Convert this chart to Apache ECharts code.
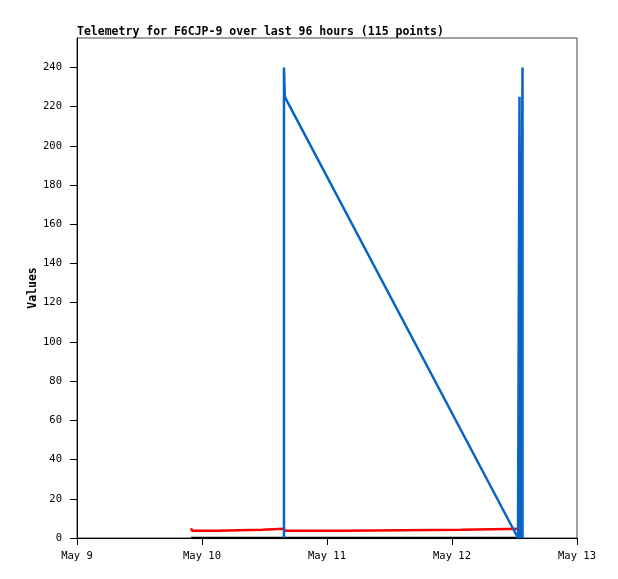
<!DOCTYPE html>
<html>
<head>
<meta charset="utf-8">
<script src="https://cdn.jsdelivr.net/npm/echarts@6/dist/echarts.min.js"></script>
<style>
  html, body { margin: 0; padding: 0; background: #fff; }
  #chart { width: 618px; height: 579px; }
</style>
</head>
<body>
<div id="chart"></div>
<script>
// hours since May 9 00:00
var dayLabels = ['May 9', 'May 10', 'May 11', 'May 12', 'May 13'];
var yTicks = [0, 20, 40, 60, 80, 100, 120, 140, 160, 180, 200, 220, 240];

var redTimes = [21.9, 22.1, 26.7, 35.5, 39.8, 51.1, 73.7, 85.4];
var redValues = [5.0, 3.7, 4.2, 4.75, 3.7, 4.2, 4.75, 4.75];

var blackTimes = [21.9, 85.5];
var blackValues = [0, 0];

var blueTimes = [39.74, 39.74, 39.9, 84.67, 84.96, 85.06, 85.54, 85.54];
var blueValues = [0, 240, 225, 0, 225, 0, 240, 0];

function pairs(t, v) {
  return t.map(function (x, i) { return [x, v[i]]; });
}

var font = 'DejaVu Sans Mono';
var chart = echarts.init(document.getElementById('chart'));
chart.setOption({
  animation: false,
  backgroundColor: '#fff',
  title: {
    text: 'Telemetry for F6CJP-9 over last 96 hours (115 points)',
    left: 72, top: 21,
    textStyle: { fontFamily: font, fontSize: 11.5, fontWeight: 'bold', color: '#000' }
  },
  grid: {
    left: 77, right: 41, top: 38, bottom: 41,
    show: true, borderColor: '#444', borderWidth: 1
  },
  xAxis: {
    type: 'value', min: 0, max: 96, interval: 24,
    axisLine: { lineStyle: { color: '#000', width: 1 } },
    axisTick: { length: 7, lineStyle: { color: '#000' } },
    splitLine: { show: false },
    axisLabel: {
      fontFamily: font, fontSize: 10.5, color: '#000', margin: 13,
      formatter: function (v) { return dayLabels[Math.round(v / 24)]; }
    }
  },
  yAxis: {
    type: 'value', min: 0, max: 255,
    name: 'Values', nameLocation: 'middle', nameGap: 38, nameMoveOverlap: false,
    nameTextStyle: { fontFamily: font, fontSize: 11.5, fontWeight: 'bold', color: '#000' },
    axisLine: { show: true, lineStyle: { color: '#000', width: 1 } },
    axisTick: { length: 7, customValues: yTicks, lineStyle: { color: '#000' } },
    splitLine: { show: false },
    axisLabel: { customValues: yTicks, fontFamily: font, fontSize: 10.5, color: '#000', margin: 15 }
  },
  series: [
    {
      type: 'line', step: 'end', symbol: 'none',
      data: pairs(redTimes, redValues),
      lineStyle: { color: '#ff0000', width: 2.5 }
    },
    {
      type: 'line', symbol: 'none',
      data: pairs(blackTimes, blackValues),
      lineStyle: { color: '#000000', width: 2.5 }
    },
    {
      type: 'line', symbol: 'none',
      data: pairs(blueTimes, blueValues),
      lineStyle: { color: '#0a64c8', width: 2.5 }
    }
  ]
});
</script>
</body>
</html>
